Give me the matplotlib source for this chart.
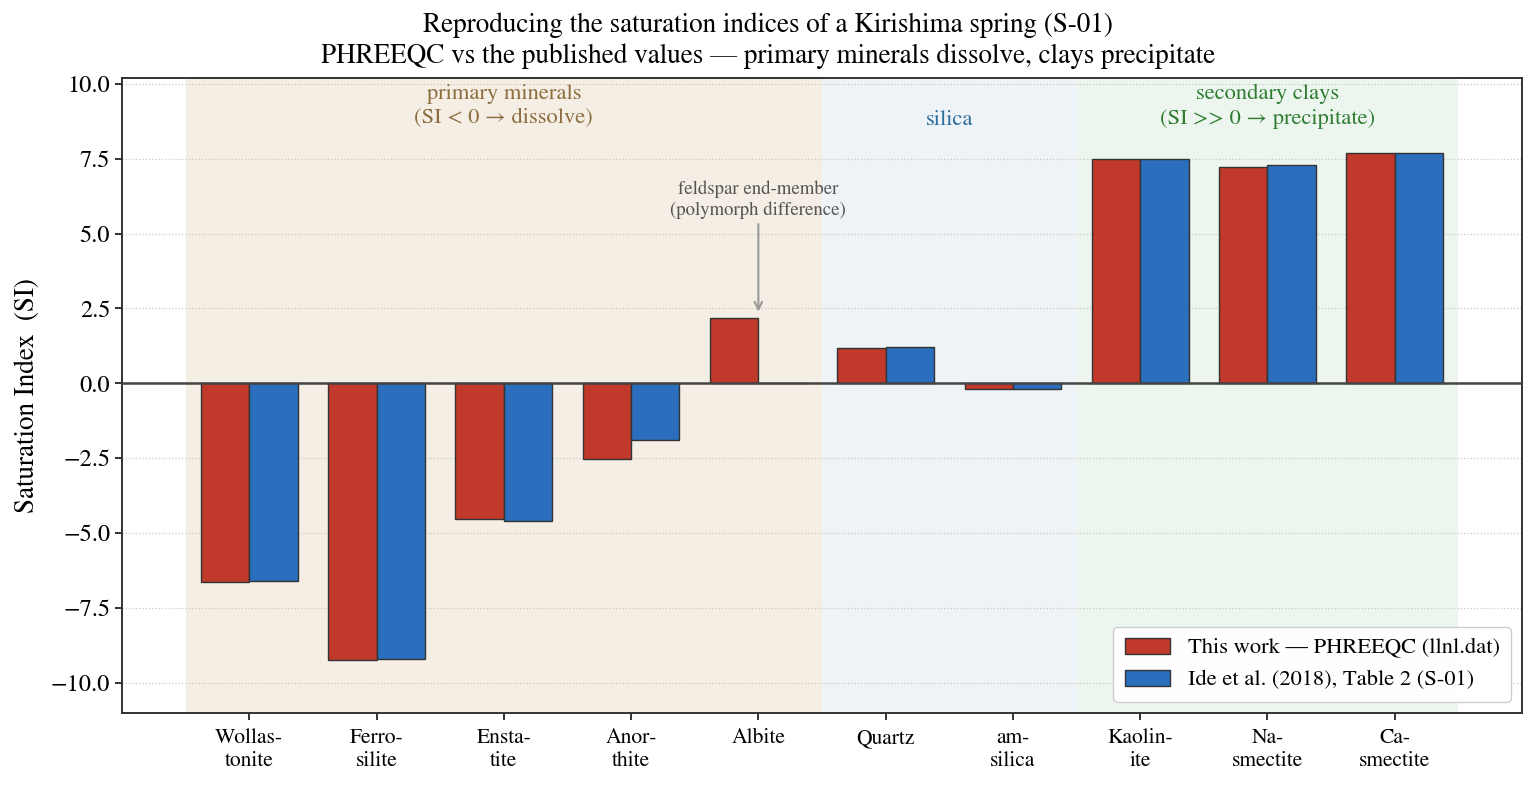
import numpy as np
import matplotlib
matplotlib.use("Agg")
import matplotlib.pyplot as plt

minerals = ["Wollas-\ntonite", "Ferro-\nsilite", "Ensta-\ntite", "Anor-\nthite", "Albite",
            "Quartz", "am-\nsilica", "Kaolin-\nite", "Na-\nsmectite", "Ca-\nsmectite"]
si_this_work = [-6.62, -9.22, -4.53, -2.52, 2.19, 1.18, -0.19, 7.49, 7.22, 7.69]
si_ide2018 = [-6.60, -9.20, -4.58, -1.89, 0.0, 1.21, -0.19, 7.49, 7.29, 7.69]
yticks = [-10.0, -7.5, -5.0, -2.5, 0.0, 2.5, 5.0, 7.5, 10.0]

plt.rcParams['font.family'] = ['STIXGeneral', 'DejaVu Serif']
plt.rcParams['mathtext.fontset'] = 'stix'

fig = plt.figure(figsize=(15.36, 7.86), dpi=100)
ax = fig.add_axes([122/1536, 1-713/786, (1522-122)/1536, (713-77.7)/786])

x = np.arange(len(minerals))
w = 0.38
ax.axvspan(-0.5, 4.5, color='#f5eee4', zorder=0, lw=0)
ax.axvspan(4.5, 6.5, color='#eef3f7', zorder=0, lw=0)
ax.axvspan(6.5, 9.5, color='#edf6ee', zorder=0, lw=0)

ax.yaxis.grid(True, linestyle=':', color='#c8c8c8', lw=0.9, zorder=0.5)
ax.set_axisbelow(True)

ax.bar(x - w/2, si_this_work, w, color='#c0392b', edgecolor='#333333', lw=1.0,
       label='This work — PHREEQC (llnl.dat)', zorder=3)
ax.bar(x + w/2, si_ide2018, w, color='#2a6ebd', edgecolor='#333333', lw=1.0,
       label='Ide et al. (2018), Table 2 (S-01)', zorder=3)
ax.axhline(0, color='#444444', lw=1.8, zorder=4)

ax.set_xlim(-1, 10)
ax.set_ylim(-11, 10.2)
ax.set_xticks(x)
ax.set_xticklabels(minerals, fontsize=15.5)
ax.set_yticks(yticks)
ax.set_yticklabels([f"{v:.1f}".replace('-', '\u2212') for v in yticks], fontsize=17.5)
ax.set_ylabel('Saturation Index  (SI)', fontsize=19.5, labelpad=8)
for s in ax.spines.values():
    s.set_color('#333333')
    s.set_linewidth(1.4)
ax.tick_params(colors='#333333', width=1.4, length=5, labelcolor='black')
ax.tick_params(axis='x', pad=6)

ax.text(2.0, 10.0, 'primary minerals\n(SI < 0 \u2192 dissolve)', ha='center', va='top',
        fontsize=16.2, color='#8c6d3f', linespacing=1.35)
ax.text(5.5, 8.8, 'silica', ha='center', va='center', fontsize=16.2, color='#2e6e9e')
ax.text(8.0, 10.0, 'secondary clays\n(SI >> 0 \u2192 precipitate)', ha='center', va='top',
        fontsize=16.2, color='#2e7d32', linespacing=1.35)

ax.annotate('feldspar end-member\n(polymorph difference)', xy=(4, 2.3),
            xytext=(4, 5.5), ha='center', va='bottom', fontsize=13.5,
            color='#555555', linespacing=1.2,
            arrowprops=dict(arrowstyle='->', color='#999999', lw=1.5))

ax.legend(loc='lower right', fontsize=16.2, frameon=True, framealpha=0.95,
          edgecolor='#cccccc', handlelength=2.0, borderpad=0.5, labelspacing=0.5)

fig.suptitle('Reproducing the saturation indices of a Kirishima spring (S-01)\n'
             'PHREEQC vs the published values — primary minerals dissolve, clays precipitate',
             fontsize=19.5, y=0.984, linespacing=1.25)

fig.savefig('out.png', dpi=100)
